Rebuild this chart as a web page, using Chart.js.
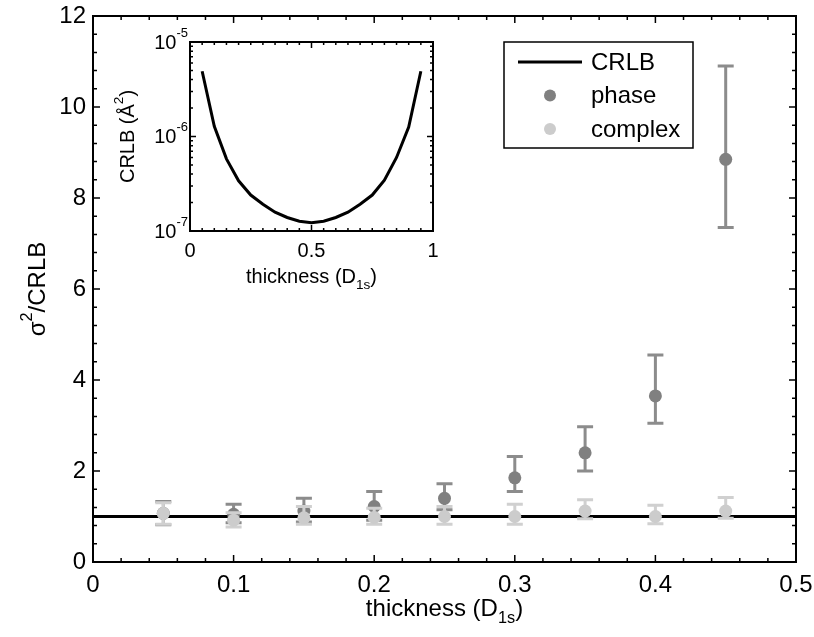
<!DOCTYPE html>
<html>
<head>
<meta charset="utf-8">
<script src="https://cdn.jsdelivr.net/npm/chart.js@4.4.0/dist/chart.umd.min.js"></script>
<style>
  body { margin: 0; background: #fff; }
  #wrap { position: relative; width: 814px; height: 637px; }
  #main { position: absolute; left: 0; top: 0; }
  #inset { position: absolute; left: 100px; top: 0; }
</style>
</head>
<body>
<div id="wrap">
  <canvas id="main" width="814" height="637" style="width:814px;height:637px"></canvas>
  <canvas id="inset" width="350" height="300" style="width:350px;height:300px"></canvas>
</div>
<script>
// datos del grafico principal
const thickness = [0.05, 0.1, 0.15, 0.2, 0.25, 0.3, 0.35, 0.4, 0.45];
const phaseVals = [1.07, 1.05, 1.12, 1.22, 1.40, 1.85, 2.40, 3.65, 8.85];
const phaseLow  = [0.82, 0.86, 0.88, 0.92, 1.15, 1.55, 2.00, 3.05, 7.35];
const phaseHigh = [1.33, 1.27, 1.40, 1.55, 1.72, 2.32, 2.97, 4.55, 10.9];
const complexVals = [1.07, 0.92, 0.97, 0.98, 1.00, 1.00, 1.12, 1.00, 1.12];
const complexLow  = [0.83, 0.77, 0.83, 0.83, 0.83, 0.83, 0.95, 0.84, 0.96];
const complexHigh = [1.30, 1.08, 1.22, 1.18, 1.22, 1.27, 1.37, 1.25, 1.42];
const crlbLineX = [0, 0.5];
const crlbLineY = [1, 1];
const xTickLabels = [0, 0.1, 0.2, 0.3, 0.4, 0.5];
const yTickLabels = [0, 2, 4, 6, 8, 10, 12];

// datos del recuadro (inset)
const insetX = [0.05, 0.1, 0.15, 0.2, 0.25, 0.3, 0.35, 0.4, 0.45, 0.5,
                0.55, 0.6, 0.65, 0.7, 0.75, 0.8, 0.85, 0.9, 0.95];
const insetCRLB = [4.9e-6, 1.28e-6, 5.8e-7, 3.4e-7, 2.4e-7, 1.92e-7, 1.58e-7, 1.39e-7, 1.27e-7, 1.22e-7,
                   1.27e-7, 1.39e-7, 1.58e-7, 1.92e-7, 2.4e-7, 3.45e-7, 6.0e-7, 1.26e-6, 4.9e-6];
const insetXTicks = [0, 0.5, 1];
const insetYTicks = [-7, -6, -5];

const FONT = "'Liberation Sans', Arial, sans-serif";

// texto con subindices / superindices
function richText(ctx, parts, x, y, size, rot) {
    ctx.save();
    ctx.translate(x, y);
    if (rot) ctx.rotate(rot);
    let total = 0;
    parts.forEach(p => {
        ctx.font = (p.sup || p.sub ? size * 0.68 : size) + 'px ' + FONT;
        p.w = ctx.measureText(p.t).width;
        total += p.w;
    });
    let cx = -total / 2;
    ctx.fillStyle = '#000';
    ctx.textBaseline = 'middle';
    ctx.textAlign = 'left';
    parts.forEach(p => {
        ctx.font = (p.sup || p.sub ? size * 0.68 : size) + 'px ' + FONT;
        let dy = p.sup ? -size * 0.42 : (p.sub ? size * 0.4 : 0);
        ctx.fillText(p.t, cx, dy);
        cx += p.w;
    });
    ctx.restore();
}

// marcas hacia adentro en los cuatro lados
function drawBoxTicks(chart, xv, yv, majLen, minLen) {
    const ctx = chart.ctx, a = chart.chartArea;
    const sx = chart.scales.x, sy = chart.scales.y;
    ctx.save();
    ctx.strokeStyle = '#000';
    ctx.lineWidth = 1.5;
    ctx.beginPath();
    xv.forEach(t => {
        const px = sx.getPixelForValue(t.v), l = t.major ? majLen : minLen;
        ctx.moveTo(px, a.bottom); ctx.lineTo(px, a.bottom - l);
        ctx.moveTo(px, a.top); ctx.lineTo(px, a.top + l);
    });
    yv.forEach(t => {
        const py = sy.getPixelForValue(t.v), l = t.major ? majLen : minLen;
        ctx.moveTo(a.left, py); ctx.lineTo(a.left + l, py);
        ctx.moveTo(a.right, py); ctx.lineTo(a.right - l, py);
    });
    ctx.stroke();
    ctx.lineWidth = 2;
    ctx.strokeRect(a.left, a.top, a.right - a.left, a.bottom - a.top);
    ctx.restore();
}

// sin relleno extra de Chart.js para etiquetas en los bordes
function noPadX(h) {
    return s => { s.height = h; s.paddingLeft = 0; s.paddingRight = 0; };
}
function noPadY(w) {
    return s => { s.width = w; s.paddingTop = 0; s.paddingBottom = 0; };
}

const errorBars = {
    id: 'errorBars',
    beforeDatasetDraw(chart, args) {
        const ds = chart.data.datasets[args.index];
        if (!ds.low) return;
        const ctx = chart.ctx, sy = chart.scales.y;
        const meta = chart.getDatasetMeta(args.index);
        ctx.save();
        ctx.strokeStyle = ds.barColor;
        ctx.lineWidth = 3;
        ctx.beginPath();
        meta.data.forEach((pt, i) => {
            const y1 = sy.getPixelForValue(ds.low[i]);
            const y2 = sy.getPixelForValue(ds.high[i]);
            ctx.moveTo(pt.x, y1); ctx.lineTo(pt.x, y2);
            ctx.moveTo(pt.x - 8, y1); ctx.lineTo(pt.x + 8, y1);
            ctx.moveTo(pt.x - 8, y2); ctx.lineTo(pt.x + 8, y2);
        });
        ctx.stroke();
        ctx.restore();
    }
};

const mainDecor = {
    id: 'mainDecor',
    afterDraw(chart) {
        const ctx = chart.ctx, a = chart.chartArea;
        const xv = [], yv = [];
        for (let i = 0; i <= 25; i++) xv.push({ v: i * 0.02, major: i % 5 === 0 });
        for (let i = 0; i <= 30; i++) yv.push({ v: i * 0.4, major: i % 5 === 0 });
        drawBoxTicks(chart, xv, yv, 7, 4);

        // titulos de ejes
        richText(ctx, [{ t: 'thickness (D' }, { t: '1s', sub: 1 }, { t: ')' }],
            (a.left + a.right) / 2, 609, 24, 0);
        richText(ctx, [{ t: 'σ' }, { t: '2', sup: 1 }, { t: '/CRLB' }],
            38, (a.top + a.bottom) / 2, 24, -Math.PI / 2);

        // leyenda
        const lx = 504, ly = 42, lw = 189, lh = 106;
        ctx.save();
        ctx.fillStyle = '#fff';
        ctx.fillRect(lx, ly, lw, lh);
        ctx.strokeStyle = '#000';
        ctx.lineWidth = 1.5;
        ctx.strokeRect(lx, ly, lw, lh);
        ctx.font = '24px ' + FONT;
        ctx.textBaseline = 'middle';
        [0, 1, 2].forEach(r => {
            const ds = chart.data.datasets[r];
            const yy = ly + 20 + r * 33.5;
            if (ds.showLine) {
                ctx.strokeStyle = ds.borderColor;
                ctx.lineWidth = 3;
                ctx.beginPath();
                ctx.moveTo(lx + 14, yy); ctx.lineTo(lx + 78, yy);
                ctx.stroke();
            } else {
                ctx.fillStyle = ds.backgroundColor;
                ctx.beginPath();
                ctx.arc(lx + 46, yy, 6, 0, Math.PI * 2);
                ctx.fill();
            }
            ctx.fillStyle = '#000';
            ctx.fillText(ds.label, lx + 87, yy + 1);
        });
        ctx.restore();
    }
};

new Chart(document.getElementById('main'), {
    type: 'scatter',
    data: {
        datasets: [
            {
                label: 'CRLB',
                data: crlbLineX.map((x, i) => ({ x: x, y: crlbLineY[i] })),
                showLine: true,
                borderColor: '#000',
                borderWidth: 3,
                pointRadius: 0,
                order: 3
            },
            {
                label: 'phase',
                data: thickness.map((x, i) => ({ x: x, y: phaseVals[i] })),
                backgroundColor: '#808080',
                borderWidth: 0,
                pointRadius: 6.5,
                low: phaseLow,
                high: phaseHigh,
                barColor: '#8c8c8c',
                order: 2
            },
            {
                label: 'complex',
                data: thickness.map((x, i) => ({ x: x, y: complexVals[i] })),
                backgroundColor: '#cccccc',
                borderWidth: 0,
                pointRadius: 6.5,
                low: complexLow,
                high: complexHigh,
                barColor: '#d0d0d0',
                order: 1
            }
        ]
    },
    options: {
        responsive: false,
        animation: false,
        events: [],
        layout: { padding: { top: 16, right: 18, left: 0, bottom: 0 } },
        plugins: { legend: { display: false }, tooltip: { enabled: false } },
        scales: {
            x: {
                type: 'linear',
                min: 0, max: 0.5,
                afterFit: noPadX(75),
                afterBuildTicks: s => { s.ticks = xTickLabels.map(v => ({ value: v })); },
                grid: { display: false, drawTicks: false },
                border: { display: false },
                ticks: {
                    padding: 9,
                    color: '#000',
                    font: { family: FONT, size: 24 },
                    maxRotation: 0,
                    callback: v => String(+v.toFixed(1))
                }
            },
            y: {
                type: 'linear',
                min: 0, max: 12,
                afterFit: noPadY(93),
                afterBuildTicks: s => { s.ticks = yTickLabels.map(v => ({ value: v })); },
                grid: { display: false, drawTicks: false },
                border: { display: false },
                ticks: {
                    padding: 7,
                    color: '#000',
                    font: { family: FONT, size: 24 }
                }
            }
        }
    },
    plugins: [errorBars, mainDecor]
});

// recuadro
const insetDecor = {
    id: 'insetDecor',
    afterDraw(chart) {
        const ctx = chart.ctx, a = chart.chartArea, sy = chart.scales.y;
        const xv = [], yv = [];
        for (let i = 0; i <= 20; i++) xv.push({ v: i * 0.05, major: i % 10 === 0 });
        [-7, -6].forEach(k => {
            for (let m = 1; m <= 9; m++) yv.push({ v: m * Math.pow(10, k), major: m === 1 });
        });
        yv.push({ v: 1e-5, major: true });
        drawBoxTicks(chart, xv, yv, 6, 3);

        insetYTicks.forEach(k => {
            const py = sy.getPixelForValue(Math.pow(10, k));
            ctx.save();
            ctx.fillStyle = '#000';
            ctx.textBaseline = 'middle';
            ctx.textAlign = 'right';
            ctx.font = '13px ' + FONT;
            const supW = ctx.measureText(String(k)).width;
            ctx.fillText(String(k), a.left - 2, py - 9);
            ctx.font = '20px ' + FONT;
            ctx.fillText('10', a.left - 2 - supW, py + 1);
            ctx.restore();
        });

        richText(ctx, [{ t: 'thickness (D' }, { t: '1s', sub: 1 }, { t: ')' }],
            (a.left + a.right) / 2, 277, 20, 0);
        richText(ctx, [{ t: 'CRLB (Å' }, { t: '2', sup: 1 }, { t: ')' }],
            28, (a.top + a.bottom) / 2, 20, -Math.PI / 2);
    }
};

new Chart(document.getElementById('inset'), {
    type: 'scatter',
    data: {
        datasets: [{
            label: 'CRLB',
            data: insetX.map((x, i) => ({ x: x, y: insetCRLB[i] })),
            showLine: true,
            borderColor: '#000',
            borderWidth: 3,
            pointRadius: 0
        }]
    },
    options: {
        responsive: false,
        animation: false,
        events: [],
        layout: { padding: { top: 42, right: 17, left: 0, bottom: 0 } },
        plugins: { legend: { display: false }, tooltip: { enabled: false } },
        scales: {
            x: {
                type: 'linear',
                min: 0, max: 1,
                afterFit: noPadX(69),
                afterBuildTicks: s => { s.ticks = insetXTicks.map(v => ({ value: v })); },
                grid: { display: false, drawTicks: false },
                border: { display: false },
                ticks: {
                    padding: 8,
                    color: '#000',
                    font: { family: FONT, size: 20 },
                    maxRotation: 0,
                    callback: v => String(+v.toFixed(1))
                }
            },
            y: {
                type: 'logarithmic',
                min: 1e-7, max: 1e-5,
                afterFit: noPadY(90),
                grid: { display: false, drawTicks: false },
                border: { display: false },
                ticks: { display: false }
            }
        }
    },
    plugins: [insetDecor]
});
</script>
</body>
</html>
